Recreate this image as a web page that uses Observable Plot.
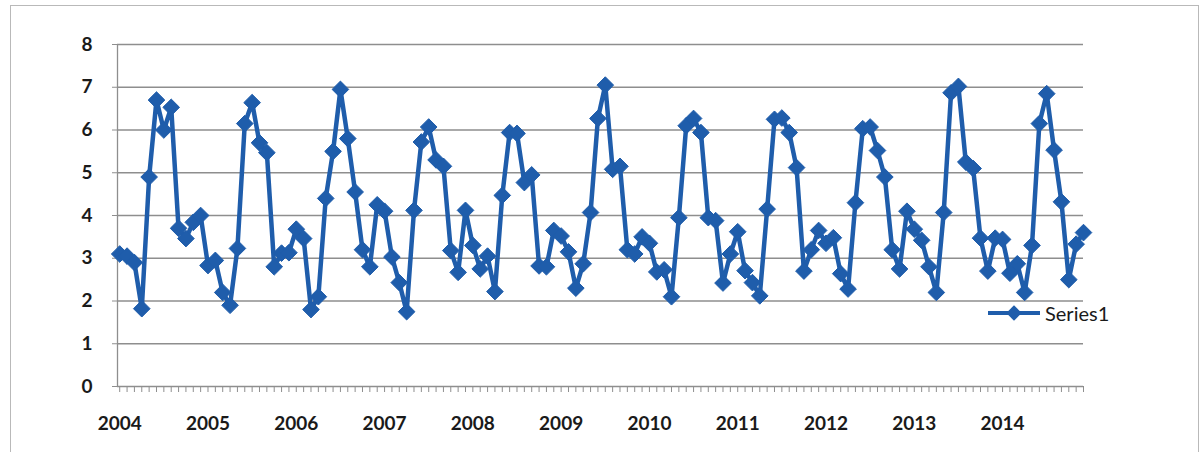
<!DOCTYPE html>
<html>
<head>
<meta charset="utf-8">
<script src="https://cdn.jsdelivr.net/npm/d3@7"></script>
<script src="https://cdn.jsdelivr.net/npm/@observablehq/plot@0.6"></script>
<style>
  html, body { margin: 0; padding: 0; background: #fff; }
  body { width: 1203px; height: 452px; position: relative; overflow: hidden; font-family: Lato, "Open Sans", sans-serif; }
  #frame { position: absolute; left: 10px; top: 5px; width: 1189px; height: 470px; border: 1px solid #b9b9b9; box-sizing: border-box; }
  #chart { position: absolute; left: 0; top: 0; }
  #legend { position: absolute; left: 986px; top: 301px; display: flex; align-items: center; gap: 3px; font-size: 20px; color: #1a1a1a; }
</style>
</head>
<body>
<div id="frame"></div>
<div id="chart"></div>
<div id="legend"></div>
<script>
// Monthly values, January 2004 through December 2014
const years = [2004, 2005, 2006, 2007, 2008, 2009, 2010, 2011, 2012, 2013, 2014];
const values2004 = [3.10, 3.05, 2.90, 1.82, 4.90, 6.70, 6.00, 6.53, 3.70, 3.46, 3.84, 4.00];
const values2005 = [2.83, 2.95, 2.20, 1.90, 3.23, 6.15, 6.64, 5.70, 5.47, 2.80, 3.12, 3.13];
const values2006 = [3.68, 3.46, 1.80, 2.10, 4.40, 5.50, 6.95, 5.80, 4.55, 3.20, 2.80, 4.25];
const values2007 = [4.10, 3.03, 2.43, 1.75, 4.12, 5.72, 6.07, 5.30, 5.15, 3.18, 2.67, 4.12];
const values2008 = [3.30, 2.75, 3.05, 2.22, 4.47, 5.94, 5.92, 4.77, 4.95, 2.82, 2.80, 3.65];
const values2009 = [3.52, 3.15, 2.30, 2.87, 4.07, 6.27, 7.05, 5.08, 5.15, 3.20, 3.10, 3.50];
const values2010 = [3.35, 2.68, 2.73, 2.10, 3.95, 6.10, 6.27, 5.94, 3.95, 3.88, 2.42, 3.10];
const values2011 = [3.62, 2.71, 2.43, 2.12, 4.15, 6.25, 6.28, 5.94, 5.12, 2.70, 3.20, 3.65];
const values2012 = [3.35, 3.48, 2.64, 2.28, 4.30, 6.03, 6.07, 5.52, 4.90, 3.20, 2.75, 4.10];
const values2013 = [3.68, 3.42, 2.80, 2.20, 4.07, 6.87, 7.02, 5.25, 5.10, 3.47, 2.70, 3.47];
const values2014 = [3.44, 2.65, 2.87, 2.20, 3.30, 6.15, 6.85, 5.53, 4.32, 2.50, 3.33, 3.60];
const yTicks = [0, 1, 2, 3, 4, 5, 6, 7, 8];
const seriesName = "Series1";

const series1 = [values2004, values2005, values2006, values2007, values2008, values2009,
                 values2010, values2011, values2012, values2013, values2014].flat();
const data = series1.map((v, i) => ({month: i, value: v}));
const yearStarts = years.map((y, k) => k * 12);
const monthTicks = d3.range(0, data.length);

const blue = "#1f5dab";
const ink = "#1a1a1a";
const gridColor = "#8e8e8e";
const x0 = -0.3;

const chart = Plot.plot({
  width: 1203,
  height: 452,
  marginLeft: 117,
  marginRight: 120,
  marginTop: 44,
  marginBottom: 66,
  style: {fontFamily: "Lato, 'Open Sans', sans-serif", fontSize: "19px", fontWeight: "bold", color: ink, background: "transparent"},
  x: {domain: [x0, data.length - 1], axis: null},
  y: {domain: [0, 8], axis: null},
  marks: [
    Plot.gridY(yTicks.slice(1), {stroke: gridColor, strokeOpacity: 1, strokeWidth: 1.3}),
    Plot.axisY(yTicks, {tickSize: 5, tickPadding: 20, stroke: gridColor, fill: ink, fontSize: 19, label: null}),
    Plot.ruleX([x0], {stroke: gridColor, strokeWidth: 1.3}),
    Plot.ruleY([0], {stroke: gridColor, strokeWidth: 1.3}),
    Plot.axisX(monthTicks, {tickSize: 6, stroke: gridColor, text: null, label: null}),
    Plot.axisX(yearStarts, {tickSize: 0, tickPadding: 30, tickFormat: (d) => String(years[d / 12]), fill: ink, fontSize: 19, label: null}),
    Plot.line(data, {x: "month", y: "value", stroke: blue, strokeWidth: 4.5, strokeLinejoin: "round"}),
    Plot.dot(data, {x: "month", y: "value", symbol: "diamond2", r: 7.5, fill: blue, stroke: blue, strokeWidth: 1})
  ]
});
document.getElementById("chart").append(chart);

// Legend: line with diamond marker, then the series name
const legend = document.getElementById("legend");
const sw = d3.create("svg").attr("width", 56).attr("height", 20);
sw.append("line").attr("x1", 2).attr("x2", 54).attr("y1", 10).attr("y2", 10)
  .attr("stroke", blue).attr("stroke-width", 4);
sw.append("path").attr("transform", "translate(28,10)")
  .attr("d", d3.symbol(d3.symbolDiamond2, 150)()).attr("fill", blue);
legend.append(sw.node());
const label = document.createElement("span");
label.textContent = seriesName;
legend.append(label);
</script>
</body>
</html>
